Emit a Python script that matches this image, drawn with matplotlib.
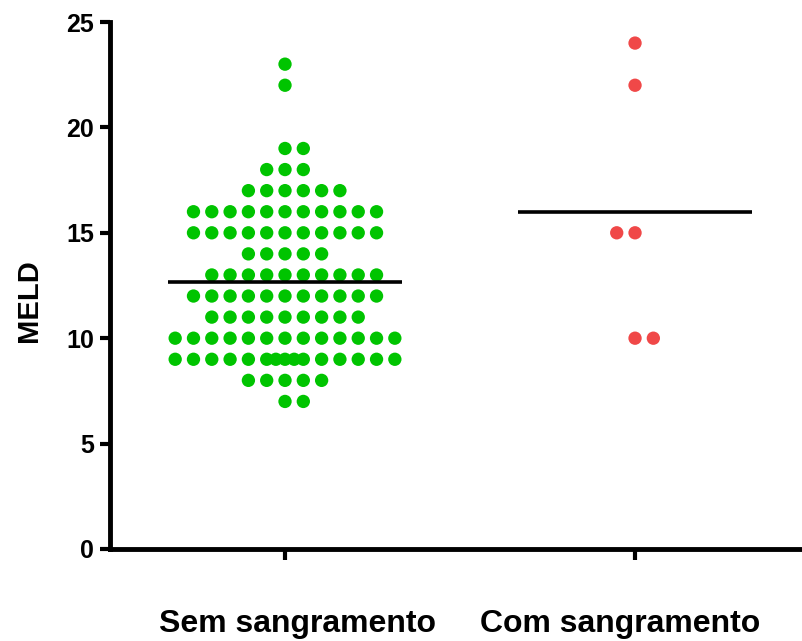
import numpy as np
import matplotlib
matplotlib.use("Agg")
import matplotlib.pyplot as plt
from matplotlib.transforms import ScaledTranslation

plt.rcParams['font.family'] = ['Liberation Sans', 'DejaVu Sans']
plt.rcParams['font.weight'] = 'bold'

# ---- data ----
categories = ["Sem sangramento", "Com sangramento"]
# MELD value -> number of patients
sem_values = [23, 22, 19, 18, 17, 16, 15, 14, 13, 12, 11, 10, 9, 8, 7]
sem_counts = [1, 1, 2, 3, 6, 11, 11, 5, 10, 11, 9, 13, 15, 5, 2]
com_values = [24, 22, 15, 10]
com_counts = [1, 1, 2, 2]
yticks = [0, 5, 10, 15, 20, 25]

green = '#00c400'
red = '#f04848'

fig = plt.figure(figsize=(8.02, 6.41), dpi=100)
ax = fig.add_axes([110/802, (641-549)/641, (802-110)/802, 527/641])

STEP = 0.0523  # horizontal spacing between dots (x units)
MAXW = 13


def offsets(n, shift=0):
    if n > MAXW:
        extra = n - MAXW
        left = list(range(-6, -1))
        mid = list(np.linspace(-1, 1, 3 + extra))
        right = list(range(2, 7))
        return np.array(left + mid + right, dtype=float)
    if n % 2 == 1:
        k = (n - 1) // 2
        return np.arange(-k, k + 1, dtype=float)
    return np.arange(-(n // 2 - 1), n // 2 + 1, dtype=float) + shift


def swarm(xc, vals, counts, shifts=None):
    xs, ys = [], []
    for v, c in zip(vals, counts):
        s = shifts.get(v, 0) if shifts else 0
        off = offsets(c, s)
        xs.extend(xc + off * STEP)
        ys.extend([v] * c)
    return np.array(xs), np.array(ys)

x0, y0 = swarm(0, sem_values, sem_counts)
x1, y1 = swarm(1, com_values, com_counts, shifts={15: -1})

ax.scatter(x0, y0, s=92, color=green, edgecolors='none', zorder=3)
ax.scatter(x1, y1, s=92, color=red, edgecolors='none', zorder=3)

mean0 = np.average(sem_values, weights=sem_counts)
mean1 = np.average(com_values, weights=com_counts)
HW = 0.335
ax.plot([0 - HW, 0 + HW], [mean0, mean0], color='black', lw=2.6, zorder=4, solid_capstyle='butt')
ax.plot([1 - HW, 1 + HW], [mean1, mean1], color='black', lw=2.6, zorder=4, solid_capstyle='butt')

ax.set_xlim(-0.5, 1.477)
ax.set_ylim(0, 25)
ax.set_yticks(yticks)
ax.set_yticklabels([str(t) for t in yticks], fontsize=18, fontweight='bold')
ax.set_xticks([0, 1])
ax.set_xticklabels(categories, fontsize=23, fontweight='bold')

for sp in ['top', 'right']:
    ax.spines[sp].set_visible(False)
for sp in ['left', 'bottom']:
    ax.spines[sp].set_linewidth(3.5)
    ax.spines[sp].set_capstyle('projecting')

ax.tick_params(axis='y', length=7.5, width=3, pad=4)
ax.tick_params(axis='x', length=8, width=3, pad=35)

# shift category labels as in the reference
shifts_in = [0.12, -0.15]
for lab, dx in zip(ax.get_xticklabels(), shifts_in):
    lab.set_transform(lab.get_transform() + ScaledTranslation(dx, 0, fig.dpi_scale_trans))

ax.set_ylabel('MELD', fontsize=21, fontweight='bold')
ax.yaxis.set_label_coords(-0.097, 0.472)

fig.savefig('out.png', dpi=100)
